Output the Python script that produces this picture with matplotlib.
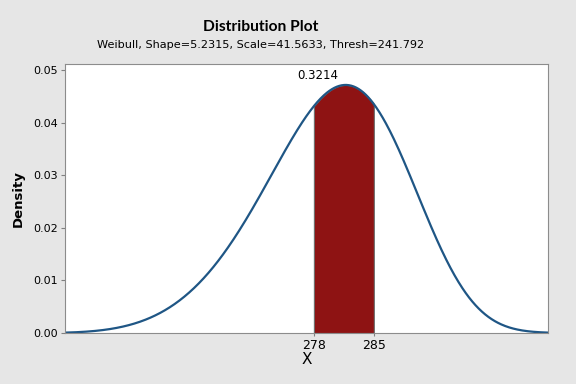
import numpy as np
import matplotlib
matplotlib.use("Agg")
import matplotlib.pyplot as plt

# Weibull parameters shown in the subtitle
shape = 5.2315
scale = 41.5633
thresh = 241.792

# shaded region and its probability
lo, hi = 278, 285
prob_text = "0.3214"

x_range = (248.94, 305.33)
y_ticks = [0.00, 0.01, 0.02, 0.03, 0.04, 0.05]


def weibull_pdf(x):
    z = np.clip((x - thresh) / scale, 0, None)
    return (shape / scale) * z ** (shape - 1) * np.exp(-z ** shape)


x = np.linspace(x_range[0], x_range[1], 600)
y = weibull_pdf(x)
xs = np.linspace(lo, hi, 200)
ys = weibull_pdf(xs)

fig = plt.figure(figsize=(5.76, 3.84), dpi=100, facecolor="#e6e6e6")
ax = fig.add_axes([0.1128, 0.1328, 0.8386, 0.7005])
ax.set_facecolor("white")

ax.fill_between(xs, 0, ys, color="#8e1313", edgecolor="#6e6e6e", linewidth=0.8)
ax.plot(x, y, color="#1f5685", lw=1.6)

ax.set_xlim(*x_range)
ax.set_ylim(0, 0.0512)
ax.set_xticks([lo, hi])
ax.set_xticklabels([str(lo), str(hi)])
ax.set_yticks(y_ticks)
ax.set_yticklabels(["%.2f" % v for v in y_ticks])
ax.tick_params(labelsize=8, color="#808080", length=3, pad=2)
ax.tick_params(axis="x", labelsize=9, length=2)

for s in ax.spines.values():
    s.set_color("#8c8c8c")
    s.set_linewidth(0.8)

ax.text(278.43, 0.04905, prob_text, ha="center", va="center", fontsize=8.5)

ax.set_xlabel("X", fontsize=11, labelpad=0)
ax.set_ylabel("Density", fontsize=9.5, fontweight="semibold", labelpad=6)

fig.text(0.453, 0.929, "Distribution Plot", ha="center", va="center",
         fontsize=11.2, family="Lato", fontweight="bold")
fig.text(0.453, 0.882, "Weibull, Shape=5.2315, Scale=41.5633, Thresh=241.792",
         ha="center", va="center", fontsize=8.1)

fig.savefig("out.png", dpi=100, facecolor=fig.get_facecolor())
